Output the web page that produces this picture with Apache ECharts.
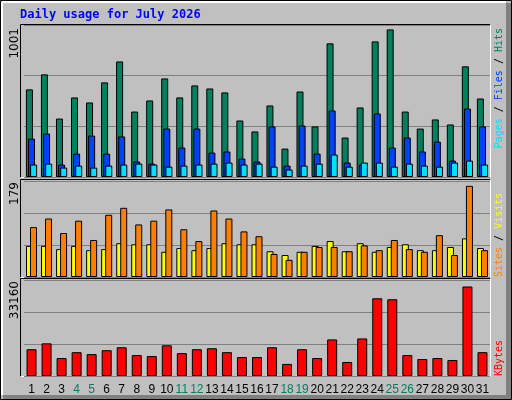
<!DOCTYPE html>
<html><head><meta charset="utf-8">
<script src="https://cdn.jsdelivr.net/npm/echarts@6/dist/echarts.min.js"></script>
<style>html,body{margin:0;padding:0;background:#C0C0C0}#c{width:512px;height:400px}</style>
</head><body><div id="c"></div>
<script>
const days = ['1','2','3','4','5','6','7','8','9','10','11','12','13','14','15','16','17','18','19','20','21','22','23','24','25','26','27','28','29','30','31'];
const weekend = ['4','5','11','12','18','19','25','26'];
const hits = [577,676,385,524,491,623,761,431,504,649,524,603,583,557,372,300,471,187,563,333,880,260,458,893,972,431,319,379,346,729,517];
const files = [253,286,82,154,273,154,267,102,88,319,194,319,161,168,121,102,333,75,339,154,438,95,82,418,194,260,168,233,108,451,333];
const pages = [82,88,62,75,62,75,82,88,82,68,75,82,88,95,82,88,68,49,75,88,148,68,95,95,68,88,75,68,95,108,82];
const visits = [58,58,52,58,50,52,63,61,61,47,54,50,54,63,61,61,48,41,47,58,67,48,63,47,56,61,50,50,56,72,54];
const sites = [93,109,82,105,69,116,129,98,105,126,89,67,124,109,85,76,43,32,47,56,56,48,59,50,69,52,47,78,41,170,50];
const kbytes = [9250,11280,6200,8230,7560,8910,9930,7220,6880,10600,7900,9250,9590,8230,6540,6540,9930,4170,9250,6200,12630,4850,12970,26850,26510,7220,5870,6200,5530,30910,8230];
const maxTop = 1001, maxMid = 179, maxBot = 33160;

const L = 24, W = 466;
const grids = [
  {left: L, width: W, top: 25, height: 152},
  {left: L, width: W, top: 181, height: 96},
  {left: L, width: W, top: 280, height: 96}
];
function xa(i, show) {
  return {type: 'category', gridIndex: i, data: days, axisLine: {show: false}, axisTick: {show: false},
    axisLabel: show ? {show: true, interval: 0, hideOverlap: false, margin: 8, fontSize: 12, fontFamily: 'Liberation Sans',
      color: (v) => weekend.includes(v) ? '#008060' : '#000'} : {show: false}};
}
function ya(i, max) {
  return {type: 'value', gridIndex: i, min: 0, max: max, interval: max / 3, axisLabel: {show: false},
    axisLine: {show: false}, axisTick: {show: false}, splitLine: {lineStyle: {color: '#808080', width: 1}}};
}
const bs = {borderColor: '#000', borderWidth: 1};
function bar(name, data, color, i, w, gap) {
  return {name, type: 'bar', data, xAxisIndex: i, yAxisIndex: i, barWidth: w, barGap: gap, animation: false,
    itemStyle: Object.assign({color}, bs)};
}
function frame(x, y, w, h) {
  return [
    {type: 'line', shape: {x1: x, y1: y, x2: x + w, y2: y}, style: {stroke: '#000', lineWidth: 1}},
    {type: 'line', shape: {x1: x, y1: y, x2: x, y2: y + h}, style: {stroke: '#000', lineWidth: 1}},
    {type: 'line', shape: {x1: x + w, y1: y, x2: x + w, y2: y + h}, style: {stroke: '#fff', lineWidth: 1}},
    {type: 'line', shape: {x1: x, y1: y + h, x2: x + w, y2: y + h}, style: {stroke: '#fff', lineWidth: 1}}
  ];
}
const f9 = '10px "DejaVu Sans Mono"';
const graphic = [
  {type: 'rect', shape: {x: 0.5, y: 0.5, width: 511, height: 399}, style: {fill: '#C0C0C0', stroke: '#000'}, z: -10},
  {type: 'rect', shape: {x: 506, y: 3, width: 5, height: 396}, style: {fill: '#808080'}, z: -9},
  {type: 'rect', shape: {x: 3, y: 395, width: 508, height: 4}, style: {fill: '#808080'}, z: -9},
  {type: 'line', shape: {x1: 2, y1: 2, x2: 506, y2: 2}, style: {stroke: '#fff', lineWidth: 2}, z: -8},
  {type: 'line', shape: {x1: 2, y1: 2, x2: 2, y2: 395}, style: {stroke: '#fff', lineWidth: 2}, z: -8},
  ...frame(20.5, 24.5, 470, 153),
  ...frame(20.5, 179.5, 470, 98),
  ...frame(20.5, 278.5, 470, 98),
  {type: 'text', x: 20, y: 15, style: {text: 'Daily usage for July 2026', font: 'bold 12px "DejaVu Sans Mono"', fill: '#0000FF', textVerticalAlign: 'middle'}},
  {type: 'text', x: 15, y: 28, rotation: Math.PI / 2, style: {text: '1001', font: '12px "DejaVu Sans"', fill: '#000', textAlign: 'right', textVerticalAlign: 'middle'}},
  {type: 'text', x: 15, y: 182, rotation: Math.PI / 2, style: {text: '179', font: '12px "DejaVu Sans"', fill: '#000', textAlign: 'right', textVerticalAlign: 'middle'}},
  {type: 'text', x: 15, y: 281, rotation: Math.PI / 2, style: {text: '33160', font: '12px "DejaVu Sans"', fill: '#000', textAlign: 'right', textVerticalAlign: 'middle'}},
  {type: 'text', x: 499, y: 28, rotation: Math.PI / 2, style: {text: '{p|Pages} / {f|Files} / {h|Hits}', font: f9, fill: '#000', textAlign: 'right', textVerticalAlign: 'middle',
    rich: {p: {fill: '#00E0FF', font: f9}, f: {fill: '#0040FF', font: f9}, h: {fill: '#00805C', font: f9}}}},
  {type: 'text', x: 499, y: 277, rotation: Math.PI / 2, style: {text: '{s|Sites} / {v|Visits}', font: f9, fill: '#000', textAlign: 'left', textVerticalAlign: 'middle',
    rich: {s: {fill: '#FF8000', font: f9}, v: {fill: '#FFFF00', font: f9}}}},
  {type: 'text', x: 499, y: 376, rotation: Math.PI / 2, style: {text: 'KBytes', font: f9, fill: '#FF0000', textAlign: 'left', textVerticalAlign: 'middle'}}
];
const chart = echarts.init(document.getElementById('c'));
chart.setOption({
  backgroundColor: '#C0C0C0',
  animation: false,
  grid: grids,
  xAxis: [xa(0, false), xa(1, false), xa(2, true)],
  yAxis: [ya(0, maxTop), ya(1, maxMid), ya(2, maxBot)],
  graphic: graphic,
  series: [
    bar('Hits', hits, '#00805C', 0, 7, '-70%'),
    bar('Files', files, '#0040FF', 0, 7, '-70%'),
    bar('Pages', pages, '#00E0FF', 0, 7, '-70%'),
    bar('Visits', visits, '#FFFF00', 1, 7, '-43%'),
    bar('Sites', sites, '#FF8000', 1, 7, '-43%'),
    bar('KBytes', kbytes, '#FF0000', 2, 10, '0%')
  ]
});
</script></body></html>
